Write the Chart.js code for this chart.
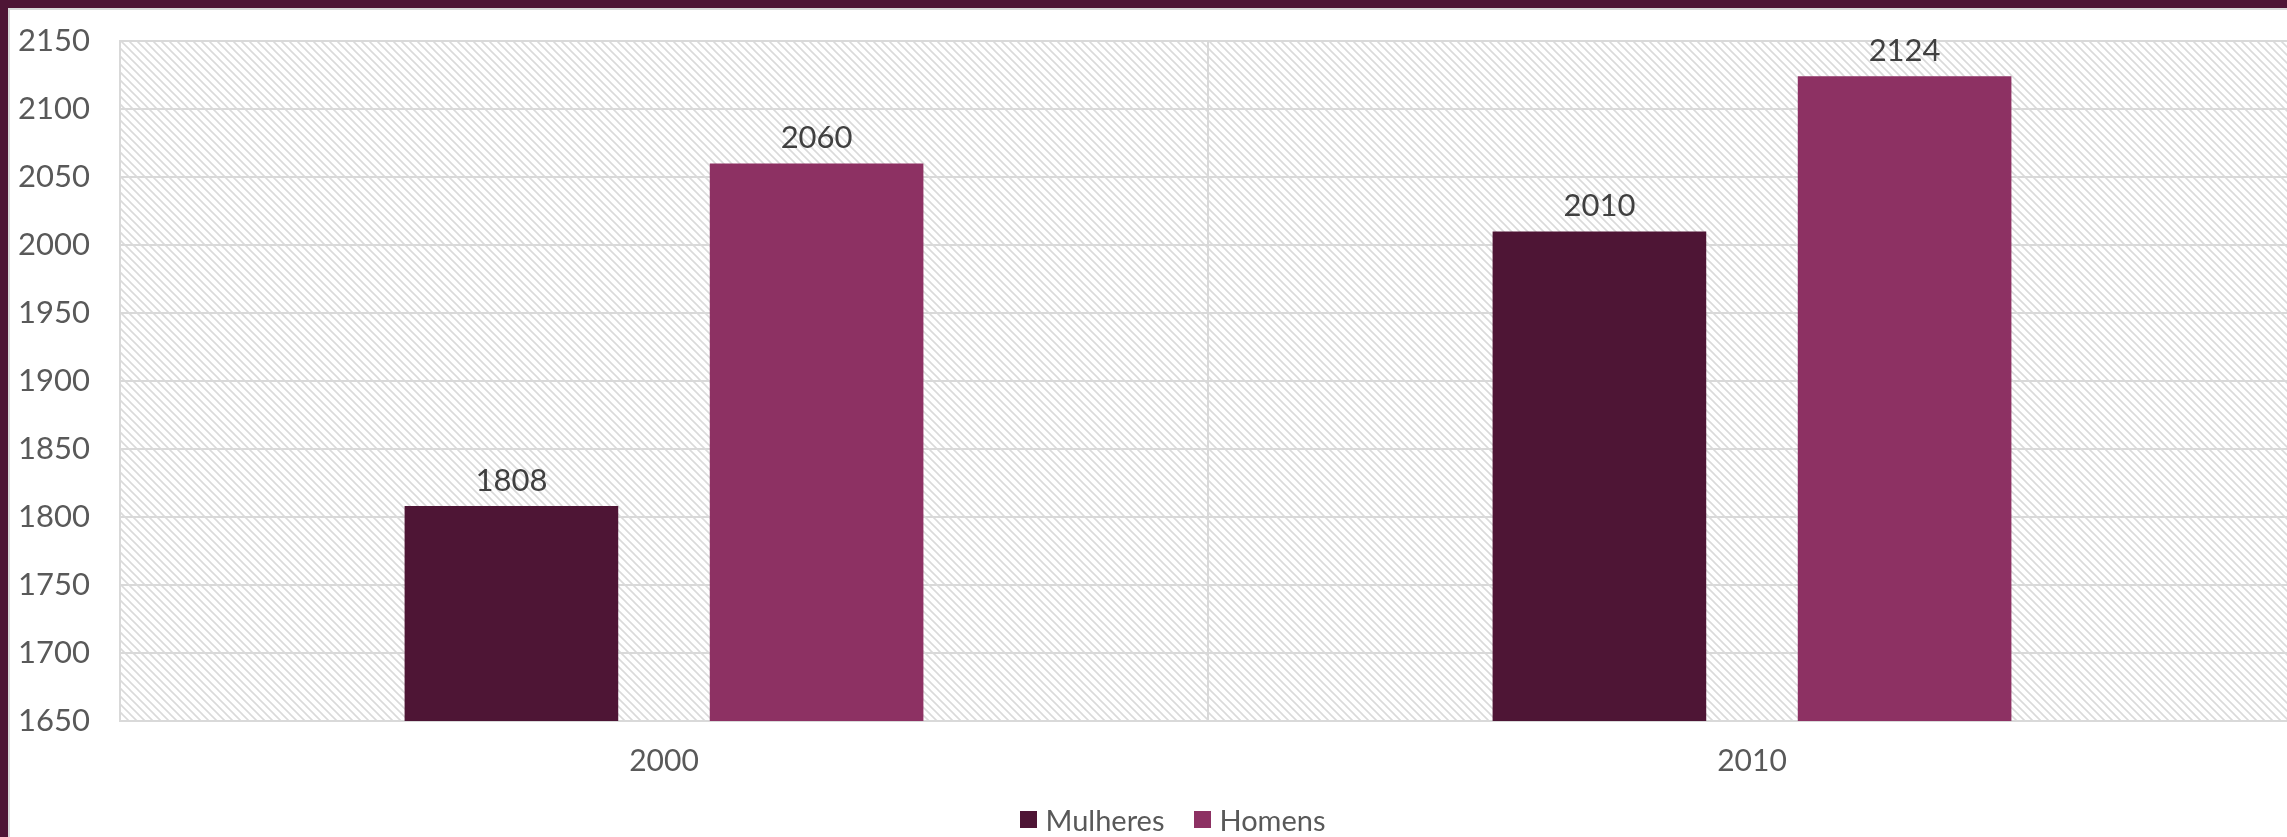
<!DOCTYPE html>
<html>
<head>
<meta charset="utf-8">
<script src="https://cdn.jsdelivr.net/npm/chart.js@4"></script>
<style>
    html, body { margin: 0; padding: 0; background: #fff; overflow: hidden; }
    .frame {
        position: absolute; left: 0; top: 0; width: 2287px; height: 837px;
        border-top: 8px solid #4e1535; border-left: 8px solid #4e1535;
        box-sizing: border-box; overflow: hidden;
    }
    .inner {
        position: absolute; left: 0; top: 0; right: 0; bottom: 0;
        border-top: 2px solid #d9d9d9; border-left: 2px solid #d9d9d9;
    }
    .chart-box { position: absolute; left: 0; top: 0; width: 2326px; height: 827px; }
    .legend {
        position: absolute; left: 0; width: 2326px; top: 792px; height: 34px;
        display: flex; justify-content: center; align-items: center;
        font: 29px Lato, 'Open Sans', sans-serif; color: #595959;
    }
    .legend-item { display: flex; align-items: center; margin: 0 15px; }
    .legend-box { width: 17px; height: 17px; margin-right: 8px; }
</style>
</head>
<body>
<div class="frame"><div class="inner">
    <div class="chart-box"><canvas id="popChart"></canvas></div>
    <div class="legend" id="legend"></div>
</div></div>
<script>
const years = ['2000', '2010'];
const mulheres = [1808, 2010];
const homens = [2060, 2124];
const seriesNames = ['Mulheres', 'Homens'];
const seriesColors = ['#4e1535', '#8d3163'];

const fontFamily = "Lato, 'Open Sans', sans-serif";

function makeHatch() {
    const size = 8;
    const c = document.createElement('canvas');
    c.width = size;
    c.height = size;
    const ctx = c.getContext('2d');
    ctx.fillStyle = '#ffffff';
    ctx.fillRect(0, 0, size, size);
    ctx.strokeStyle = '#dadada';
    ctx.lineWidth = 1.6;
    // "\" stripes
    ctx.beginPath();
    ctx.moveTo(-1, -1); ctx.lineTo(size + 1, size + 1);
    ctx.moveTo(-size - 1, -1); ctx.lineTo(1, size + 1);
    ctx.moveTo(size - 1, -1); ctx.lineTo(2 * size + 1, size + 1);
    ctx.stroke();
    return ctx.createPattern(c, 'repeat');
}

// hatched plot background
const hatchBackground = {
    id: 'hatchBackground',
    beforeDraw(chart) {
        const { ctx, chartArea } = chart;
        ctx.save();
        ctx.fillStyle = makeHatch();
        ctx.fillRect(chartArea.left, chartArea.top, chartArea.right - chartArea.left, chartArea.bottom - chartArea.top);
        ctx.restore();
    }
};

// value labels above bars
const valueLabels = {
    id: 'valueLabels',
    afterDatasetsDraw(chart) {
        const { ctx } = chart;
        ctx.save();
        ctx.font = '31px ' + fontFamily;
        ctx.fillStyle = '#404040';
        ctx.textAlign = 'center';
        ctx.textBaseline = 'bottom';
        chart.data.datasets.forEach((ds, i) => {
            chart.getDatasetMeta(i).data.forEach((bar, j) => {
                ctx.fillText(String(ds.data[j]), bar.x, bar.y - 10);
            });
        });
        ctx.restore();
    }
};

const chart = new Chart(document.getElementById('popChart'), {
    type: 'bar',
    data: {
        labels: years,
        datasets: [
            { label: seriesNames[0], data: mulheres, backgroundColor: seriesColors[0] },
            { label: seriesNames[1], data: homens, backgroundColor: seriesColors[1] }
        ]
    },
    options: {
        responsive: true,
        maintainAspectRatio: false,
        animation: false,
        datasets: {
            bar: { categoryPercentage: 0.561, barPercentage: 0.70 }
        },
        layout: { padding: { top: 31, left: 0, right: 0, bottom: 36 } },
        plugins: {
            legend: { display: false },
            tooltip: { enabled: false }
        },
        scales: {
            x: {
                grid: { color: '#d9d9d9', lineWidth: 2, drawTicks: false, offset: true },
                border: { color: '#d9d9d9', width: 2 },
                ticks: { color: '#595959', padding: 22, font: { family: fontFamily, size: 30 } },
                afterFit(scale) { scale.paddingLeft = 0; scale.paddingRight = 0; }
            },
            y: {
                min: 1650,
                max: 2150,
                grid: { color: '#d9d9d9', lineWidth: 2, drawTicks: false },
                border: { color: '#d9d9d9', width: 2 },
                ticks: {
                    stepSize: 50,
                    color: '#595959',
                    padding: 30,
                    font: { family: fontFamily, size: 31 },
                    callback: v => String(v)
                },
                afterFit(scale) { scale.width = 110; scale.paddingTop = 0; scale.paddingBottom = 0; }
            },
            yRight: {
                position: 'right',
                display: true,
                grid: { display: false },
                border: { display: false },
                ticks: { display: false },
                afterFit(scale) { scale.width = 40; scale.paddingTop = 0; scale.paddingBottom = 0; }
            }
        }
    },
    plugins: [hatchBackground, valueLabels]
});

// legend built from the chart's datasets
const legendEl = document.getElementById('legend');
chart.data.datasets.forEach(ds => {
    const item = document.createElement('div');
    item.className = 'legend-item';
    const box = document.createElement('span');
    box.className = 'legend-box';
    box.style.background = ds.backgroundColor;
    item.appendChild(box);
    item.appendChild(document.createTextNode(ds.label));
    legendEl.appendChild(item);
});
</script>
</body>
</html>
